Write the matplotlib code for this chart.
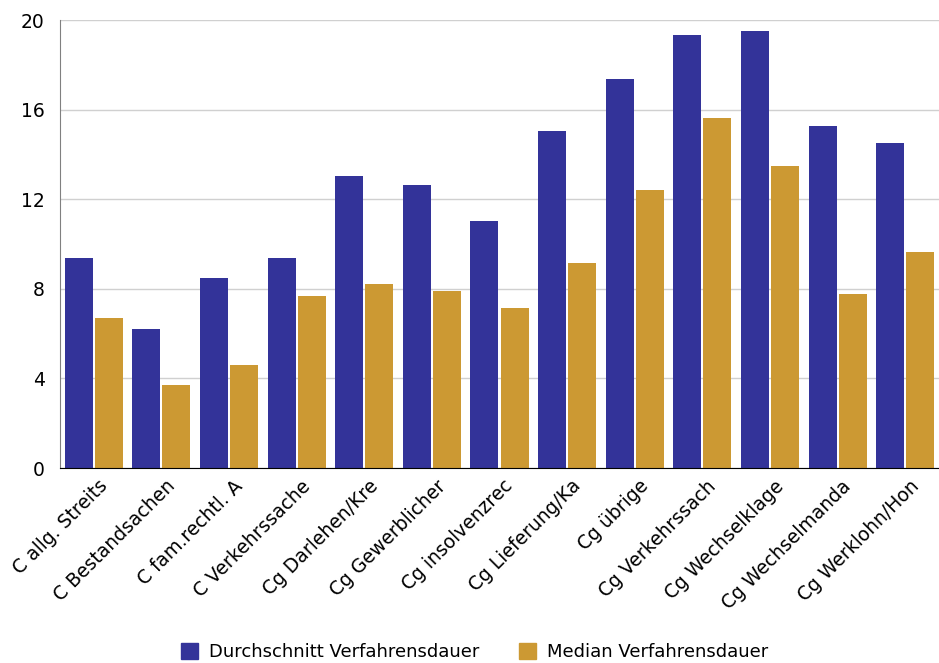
import numpy as np
import matplotlib
matplotlib.use("Agg")
import matplotlib.pyplot as plt
import matplotlib.transforms as mtransforms
from matplotlib.patches import Patch

# Data
categories = ["C allg. Streits", "C Bestandsachen", "C fam.rechtl. A", "C Verkehrssache",
              "Cg Darlehen/Kre", "Cg Gewerblicher", "Cg insolvenzrec", "Cg Lieferung/Ka",
              "Cg übrige", "Cg Verkehrssach", "Cg Wechselklage", "Cg Wechselmanda",
              "Cg Werklohn/Hon"]
mean_dauer = [9.38, 6.2, 8.48, 9.38, 13.04, 12.63, 11.03, 15.04, 17.37, 19.33, 19.51, 15.27, 14.51]
median_dauer = [6.7, 3.7, 4.6, 7.68, 8.21, 7.9, 7.14, 9.15, 12.41, 15.63, 13.48, 7.77, 9.64]
yticks = [0, 4, 8, 12, 16, 20]

blue = "#333399"
gold = "#CC9933"

fig = plt.figure(figsize=(9.39, 6.63), dpi=100)
ax = fig.add_axes([0.0639, 0.294, 0.9361, 0.6758])

x = np.arange(len(categories))
w = 0.414
ax.bar(x - w / 2 - 0.015, mean_dauer, width=w, color=blue, zorder=3)
ax.bar(x + w / 2 + 0.015, median_dauer, width=w, color=gold, zorder=3)

ax.set_xlim(-0.5, len(categories) - 0.5)
ax.set_ylim(0, 20)
ax.set_yticks(yticks)
ax.set_yticklabels([str(t) for t in yticks], fontsize=13.5)
ax.grid(axis="y", color="#d0d0d0", linewidth=1, zorder=0)

ax.set_xticks(x)
ax.set_xticklabels(categories, rotation=45, ha="right", rotation_mode="anchor", fontsize=13.5)
ax.tick_params(axis="both", length=0)
ax.tick_params(axis="x", pad=6)
ax.tick_params(axis="y", pad=11)

# shift the rotated labels a bit to the right
offset = mtransforms.ScaledTranslation(0.04, 0, fig.dpi_scale_trans)
for lbl in ax.get_xticklabels():
    lbl.set_transform(lbl.get_transform() + offset)

for s in ["top", "right"]:
    ax.spines[s].set_visible(False)
ax.spines["left"].set_color("#808080")
ax.spines["bottom"].set_color("black")
ax.spines["bottom"].set_zorder(4)

handles = [Patch(color=blue, label="Durchschnitt Verfahrensdauer"),
           Patch(color=gold, label="Median Verfahrensdauer")]
fig.legend(handles=handles, loc="lower center", bbox_to_anchor=(0.505, -0.022), ncol=2,
           frameon=False, fontsize=13, handlelength=0.95, handleheight=0.95,
           columnspacing=2.2, handletextpad=0.6)

fig.savefig("out.png", dpi=100)
